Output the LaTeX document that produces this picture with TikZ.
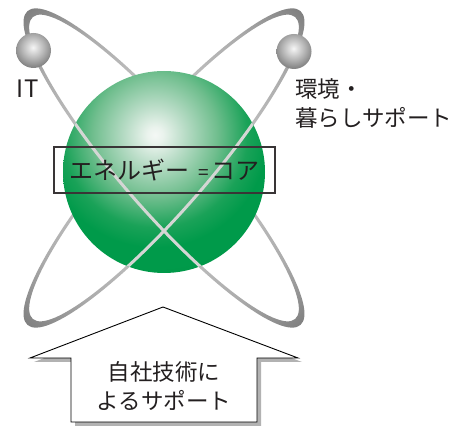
\documentclass[tikz,border=0pt]{standalone}
\usepackage{fontspec}
\setmainfont{Noto Sans CJK JP}
\definecolor{inkdark}{RGB}{35,31,32}
\definecolor{frontline}{RGB}{212,214,212}
\definecolor{shadowgray}{RGB}{178,178,178}
% green core sphere, used at natural size (1bp ~ 1 unit here)
\pgfdeclareradialshading{coresphere}{\pgfpoint{0bp}{0bp}}{%
  color(0bp)=(rgb,255:red,244;green,248;blue,245);
  color(8bp)=(rgb,255:red,234;green,243;blue,237);
  color(30bp)=(rgb,255:red,184;green,220;blue,198);
  color(62bp)=(rgb,255:red,112;green,190;blue,142);
  color(92bp)=(rgb,255:red,26;green,162;blue,88);
  color(112bp)=(rgb,255:red,0;green,154;blue,74);
  color(200bp)=(rgb,255:red,0;green,152;blue,72)}
% small grey satellites
\pgfdeclareradialshading{satball}{\pgfpoint{0bp}{0bp}}{%
  color(0bp)=(rgb,255:red,246;green,246;blue,246);
  color(3bp)=(rgb,255:red,228;green,228;blue,228);
  color(11bp)=(rgb,255:red,182;green,182;blue,182);
  color(19bp)=(rgb,255:red,134;green,134;blue,134);
  color(30bp)=(rgb,255:red,134;green,134;blue,134)}
% orbit rings: light near the middle, darker at the far ends
\pgfdeclareradialshading{orbitring}{\pgfpoint{0bp}{0bp}}{%
  color(0bp)=(rgb,255:red,196;green,196;blue,196);
  color(90bp)=(rgb,255:red,190;green,190;blue,190);
  color(150bp)=(rgb,255:red,172;green,172;blue,172);
  color(190bp)=(rgb,255:red,142;green,142;blue,142);
  color(210bp)=(rgb,255:red,126;green,126;blue,126);
  color(260bp)=(rgb,255:red,126;green,126;blue,126)}
\tikzset{
  ringpath/.style={even odd rule},
  shadebox/.style={inner sep=0pt, outer sep=0pt},
  labeltext/.style={font=\fontsize{22.5}{29}\selectfont, text=inkdark, inner sep=0pt},
  corebox/.style={draw=inkdark!90, line width=1.2pt, minimum width=221pt, minimum height=46pt,
    inner sep=0pt, font=\fontsize{24}{28}\selectfont, text=inkdark},
  housearrow/.style={fill=white, draw=black, line width=0.9pt, line join=miter},
  housearrowshadow/.style={fill=shadowgray, draw=none}
}
\begin{document}
\begin{tikzpicture}[x=1pt,y=-1pt]
\useasboundingbox (0,0) rectangle (458,427);

\coordinate (oc) at (164,168);
\coordinate (core) at (164,172);

% orbit rings (back layer)
\begin{scope}[ringpath]
  \clip[rotate around={-49:(oc)}]
    (oc) ellipse [x radius=208, y radius=44]
    (oc) ellipse [x radius=200, y radius=41];
  \node[shadebox] (ringAshade) at (oc) {\pgfuseshading{orbitring}};
\end{scope}
\begin{scope}[ringpath]
  \clip[rotate around={49:(oc)}]
    (oc) ellipse [x radius=208, y radius=44]
    (oc) ellipse [x radius=200, y radius=41];
  \node[shadebox] (ringBshade) at (oc) {\pgfuseshading{orbitring}};
\end{scope}

% the core sphere, lit from the upper left
\begin{scope}
  \clip (core) circle [radius=101];
  \node[shadebox] (coreshade) at (155,135) {\pgfuseshading{coresphere}};
\end{scope}

% front halves of the orbits, seen over the sphere
\begin{scope}
  \clip (core) circle [radius=101];
  \begin{scope}
    \clip[rotate around={-49:(oc)}] (-136,168) rectangle (464,468);
    \fill[ringpath, frontline, rotate around={-49:(oc)}]
      (oc) ellipse [x radius=208, y radius=44]
      (oc) ellipse [x radius=200, y radius=41];
  \end{scope}
  \begin{scope}
    \clip[rotate around={49:(oc)}] (-136,168) rectangle (464,468);
    \fill[ringpath, frontline, rotate around={49:(oc)}]
      (oc) ellipse [x radius=208, y radius=44]
      (oc) ellipse [x radius=200, y radius=41];
  \end{scope}
\end{scope}

% satellites
\begin{scope}
  \clip (33.5,50.5) circle [radius=17.5];
  \node[shadebox] (satITshade) at (33,47.5) {\pgfuseshading{satball}};
\end{scope}
\begin{scope}
  \clip (294,51.5) circle [radius=17.5];
  \node[shadebox] (satEnvshade) at (293.5,48.5) {\pgfuseshading{satball}};
\end{scope}

% labels
\node[labeltext, font=\fontsize{24}{29}\selectfont] (itlabel) at (27.5,89) {I\kern1.5pt T};
\node[labeltext, anchor=west, align=left] (envlabel) at (295,103) {環境・\\暮らしサポート};

% central caption
\node[corebox] (corelabel) at (164.5,170)
  {エネルギー\makebox[22pt][l]{\hspace{9pt}\fontsize{19}{19}\selectfont =}コア};

% upward arrow with its shadow
\fill[housearrowshadow] (167,311) -- (302,362) -- (261,362) -- (261,426)
  -- (75,426) -- (75,362) -- (34,362) -- cycle;
\draw[housearrow] (163,307) -- (298,358) -- (257,358) -- (257,422)
  -- (71,422) -- (71,358) -- (30,358) -- cycle;
\node[labeltext, align=center] (supportlabel) at (164,386) {自社技術に\\よるサポート};
\end{tikzpicture}
\end{document}
